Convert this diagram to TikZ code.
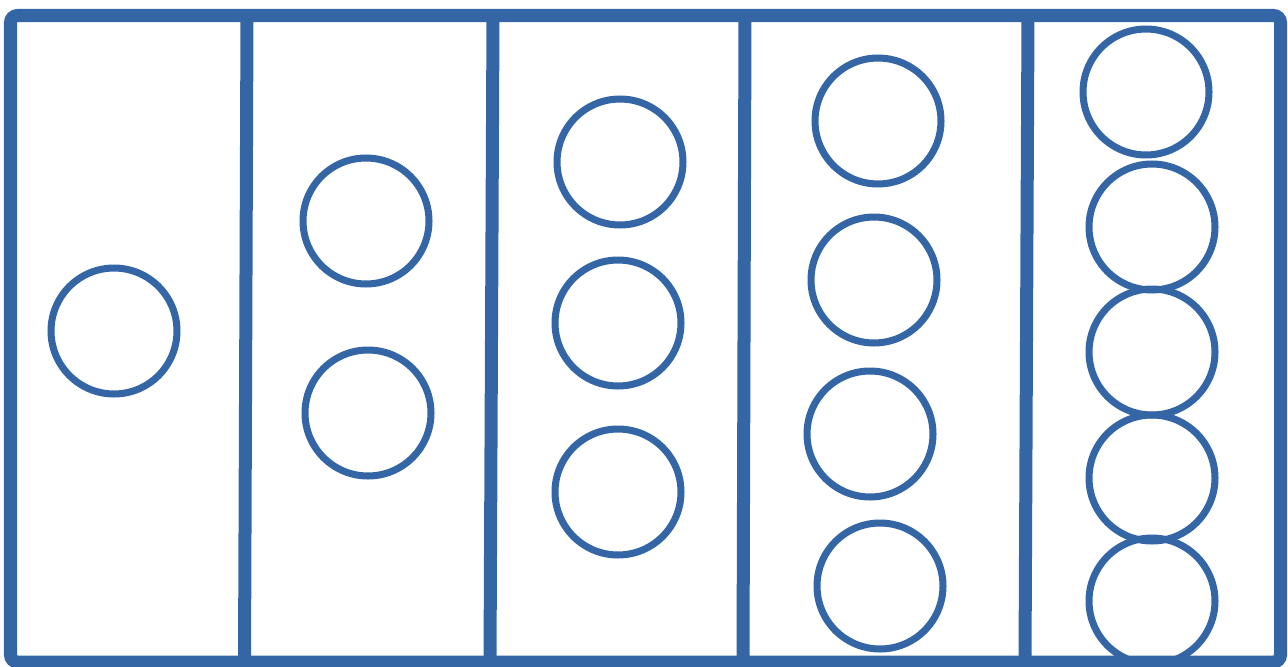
\documentclass[tikz,border=0pt]{standalone}
\definecolor{frameblue}{RGB}{52,102,166}
\begin{document}
\begin{tikzpicture}[x=0.02cm,y=-0.02cm,
  frameline/.style={draw=frameblue,line width=7.4pt},
  circ/.style={circle,draw=frameblue,line width=4pt,minimum size=2.52cm,inner sep=0pt}]
\useasboundingbox (0,0) rectangle (1288,666);
\draw[frameline,rounded corners=4pt] (10.5,15.5) rectangle (1280.5,662);
\coordinate (d1t) at (247,15.5);  \coordinate (d1b) at (244.5,662);
\coordinate (d2t) at (493,15.5);  \coordinate (d2b) at (490,662);
\coordinate (d3t) at (745,15.5);  \coordinate (d3b) at (743,662);
\coordinate (d4t) at (1028,15.5); \coordinate (d4b) at (1025,662);
\draw[frameline] (d1t) -- (d1b);
\draw[frameline] (d2t) -- (d2b);
\draw[frameline] (d3t) -- (d3b);
\draw[frameline] (d4t) -- (d4b);
\node[circ] (a1) at (114,331) {};
\node[circ] (b1) at (366,221) {};
\node[circ] (b2) at (368,413) {};
\node[circ] (c1) at (620,162) {};
\node[circ] (c2) at (618,323) {};
\node[circ] (c3) at (618,492) {};
\node[circ] (e1) at (878,121) {};
\node[circ] (e2) at (874,280) {};
\node[circ] (e3) at (870,434) {};
\node[circ] (e4) at (880,586) {};
\node[circ] (f1) at (1146,92) {};
\node[circ] (f2) at (1152,227) {};
\node[circ] (f3) at (1152,352) {};
\node[circ] (f4) at (1152,478) {};
\node[circ] (f5) at (1152,601) {};
\end{tikzpicture}
\end{document}
